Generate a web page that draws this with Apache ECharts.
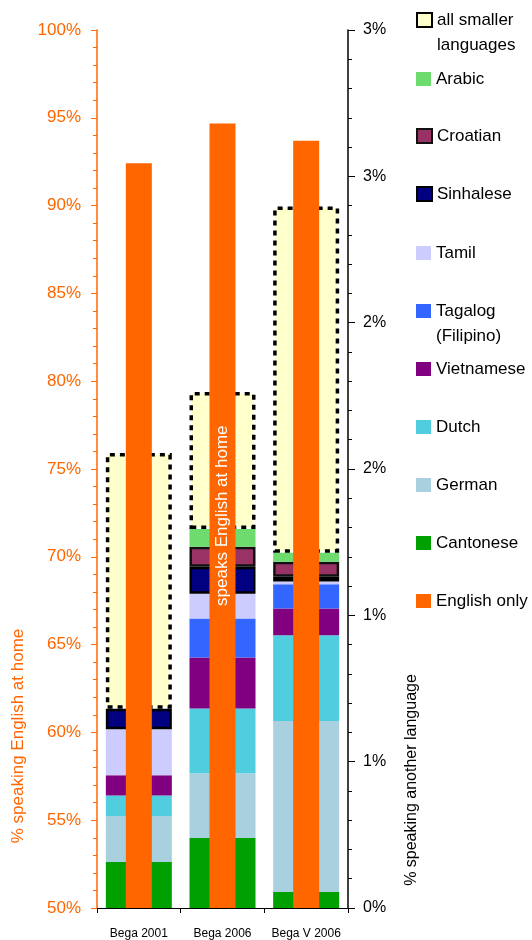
<!DOCTYPE html>
<html>
<head>
<meta charset="utf-8">
<script src="https://cdn.jsdelivr.net/npm/echarts@6/dist/echarts.min.js"></script>
<style>
  html, body { margin: 0; padding: 0; background: #fff; }
  #chart { width: 532px; height: 940px; }
</style>
</head>
<body>
<div id="chart"></div>
<script>
// Areas
const categories = ['Bega 2001', 'Bega 2006', 'Bega V 2006'];

// % of population speaking only English at home (left axis)
const englishOnly = [92.41, 94.68, 93.70];

// % speaking another language at home (right axis), stacked bottom to top
const cantonese  = [0.157, 0.239, 0.055];
const german     = [0.157, 0.221, 0.584];
const dutch      = [0.070, 0.222, 0.293];
const vietnamese = [0.070, 0.174, 0.091];
const tagalog    = [null,  0.133, 0.083];
const tamil      = [0.157, 0.085, 0.010];
const sinhalese  = [0.070, 0.092, 0.016];
const croatian   = [null,  0.068, 0.051];
const arabic     = [null,  0.061, 0.031];
const smaller    = [0.874, 0.468, 1.183];

const FONT = '"Liberation Sans", Arial, Helvetica, sans-serif';
const ORANGE = '#FF6600';

const stackDefs = [
  { name: 'Cantonese', data: cantonese, color: '#00A000' },
  { name: 'German', data: german, color: '#A9D0DE' },
  { name: 'Dutch', data: dutch, color: '#50CDDE' },
  { name: 'Vietnamese', data: vietnamese, color: '#800080' },
  { name: 'Tagalog (Filipino)', data: tagalog, color: '#3366FF' },
  { name: 'Tamil', data: tamil, color: '#CCCCFF' },
  { name: 'Sinhalese', data: sinhalese, color: '#000080', border: { borderColor: '#000', borderWidth: 2.5 } },
  { name: 'Croatian', data: croatian, color: '#993366', border: { borderColor: '#111', borderWidth: 2.5 } },
  { name: 'Arabic', data: arabic, color: '#6EDB6E' },
  { name: 'all smaller languages', data: smaller, color: '#FFFFCC', border: { borderColor: '#000', borderWidth: 3.5, borderType: [5, 5] } }
];

const series = stackDefs.map(d => ({
  name: d.name,
  type: 'bar',
  stack: 'other',
  xAxisIndex: 0,
  yAxisIndex: 1,
  barWidth: 66,
  data: d.data,
  itemStyle: Object.assign({ color: d.color }, d.border || {}),
  emphasis: { disabled: true }
}));

series.push({
  name: 'English only',
  type: 'bar',
  xAxisIndex: 1,
  yAxisIndex: 0,
  barWidth: 26,
  z: 5,
  itemStyle: { color: ORANGE },
  emphasis: { disabled: true },
  data: englishOnly.map((v, i) => i === 1 ? {
    value: v,
    label: {
      show: true, position: 'inside', rotate: 90,
      formatter: 'speaks English at home',
      color: '#fff', fontSize: 17, fontFamily: FONT
    }
  } : v)
});

// Legend entries, top to bottom, with vertical centre of each marker
const legendItems = [
  { name: 'all smaller languages', text: '\nall smaller\nlanguages', y: 20, lines: 3 },
  { name: 'Arabic', text: 'Arabic', y: 79, lines: 1 },
  { name: 'Croatian', text: 'Croatian', y: 136, lines: 1 },
  { name: 'Sinhalese', text: 'Sinhalese', y: 194, lines: 1 },
  { name: 'Tamil', text: 'Tamil', y: 253, lines: 1 },
  { name: 'Tagalog (Filipino)', text: '\nTagalog\n(Filipino)', y: 311, lines: 3 },
  { name: 'Vietnamese', text: 'Vietnamese', y: 369, lines: 1 },
  { name: 'Dutch', text: 'Dutch', y: 427, lines: 1 },
  { name: 'German', text: 'German', y: 485, lines: 1 },
  { name: 'Cantonese', text: 'Cantonese', y: 543, lines: 1 },
  { name: 'English only', text: 'English only', y: 601, lines: 1 }
];
const LH = 25;
const legends = legendItems.map(it => ({
  data: [it.name],
  orient: 'vertical',
  left: 416,
  top: it.y - it.lines * LH / 2,
  padding: 0,
  itemGap: 0,
  itemWidth: 15,
  itemHeight: 14,
  icon: 'rect',
  selectedMode: false,
  formatter: () => it.text,
  textStyle: { fontSize: 17, lineHeight: LH, color: '#000', fontFamily: FONT }
}));

const chart = echarts.init(document.getElementById('chart'), null, { renderer: 'canvas' });
chart.setOption({
  animation: false,
  backgroundColor: '#fff',
  textStyle: { fontFamily: FONT },
  grid: { left: 97, right: 184, top: 30, bottom: 30, containLabel: false },
  legend: legends,
  xAxis: [
    {
      type: 'category',
      data: categories,
      axisLine: { lineStyle: { color: '#000', width: 1 } },
      axisTick: { show: true, length: 5, lineStyle: { color: '#000' } },
      axisLabel: { color: '#000', fontSize: 12, margin: 20, interval: 0, fontFamily: FONT }
    },
    {
      type: 'category',
      data: categories,
      show: false
    }
  ],
  yAxis: [
    {
      type: 'value',
      min: 50, max: 100, interval: 5,
      position: 'left',
      axisLine: { show: true, lineStyle: { color: ORANGE, width: 1.5 } },
      axisTick: { show: true, length: 6, lineStyle: { color: ORANGE } },
      minorTick: { show: true, splitNumber: 5, length: 4, lineStyle: { color: ORANGE } },
      splitLine: { show: false },
      axisLabel: { color: ORANGE, fontSize: 17, margin: 16, formatter: '{value}%', fontFamily: FONT }
    },
    {
      type: 'value',
      min: 0, max: 3, interval: 0.5,
      position: 'right',
      axisLine: { show: true, lineStyle: { color: '#000', width: 1.5 } },
      axisTick: { show: true, length: 7, lineStyle: { color: '#000' } },
      minorTick: { show: true, splitNumber: 5, length: 4, lineStyle: { color: '#000' } },
      splitLine: { show: false },
      axisLabel: {
        color: '#000', fontSize: 16, margin: 15, fontFamily: FONT,
        formatter: v => Math.round(v) + '%'
      }
    }
  ],
  graphic: [
    {
      type: 'text', x: 18, y: 736, rotation: Math.PI / 2,
      style: { text: '% speaking English at home', fill: ORANGE, fontSize: 17, fontFamily: FONT, align: 'center', verticalAlign: 'middle' }
    },
    {
      type: 'text', x: 412, y: 780, rotation: Math.PI / 2,
      style: { text: '% speaking another language', fill: '#000', fontSize: 16, fontFamily: FONT, align: 'center', verticalAlign: 'middle' }
    }
  ],
  series: series
});
</script>
</body>
</html>
